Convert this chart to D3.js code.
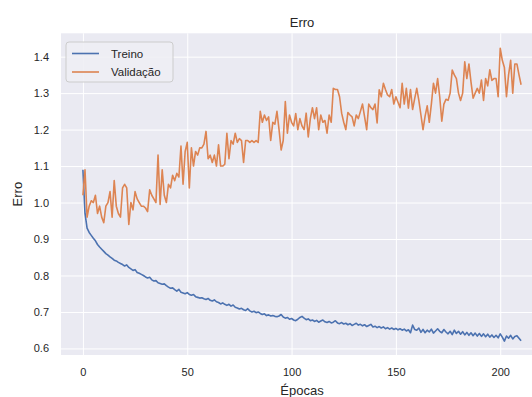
<!DOCTYPE html>
<html>
<head>
<meta charset="utf-8">
<script src="https://cdn.jsdelivr.net/npm/d3@7"></script>
<style>
  html, body { margin: 0; padding: 0; background: #ffffff; }
  svg { display: block; }
  text { font-family: "Liberation Sans", Arial, sans-serif; fill: #262626; }
</style>
</head>
<body>
<svg id="chart" width="532" height="397"></svg>
<script>
const title = "Erro";
const xLabel = "Épocas";
const yLabel = "Erro";
const seriesNames = ["Treino", "Validação"];
const xTicks = [0, 50, 100, 150, 200];
const yTicks = [0.6, 0.7, 0.8, 0.9, 1.0, 1.1, 1.2, 1.3, 1.4];

const treino = [
1.09,0.97,0.93,0.918,0.91,0.902,0.895,0.885,0.878,0.872,
0.866,0.86,0.856,0.851,0.847,0.842,0.840,0.836,0.833,0.830,
0.826,0.829,0.822,0.818,0.814,0.816,0.808,0.806,0.803,0.800,
0.796,0.793,0.795,0.788,0.785,0.786,0.780,0.778,0.776,0.777,
0.772,0.768,0.765,0.766,0.761,0.757,0.762,0.754,0.752,0.750,
0.753,0.748,0.746,0.748,0.742,0.740,0.738,0.739,0.736,0.734,
0.737,0.732,0.730,0.733,0.728,0.726,0.722,0.725,0.721,0.718,
0.721,0.716,0.719,0.713,0.711,0.708,0.710,0.706,0.704,0.709,
0.703,0.700,0.702,0.698,0.700,0.696,0.693,0.695,0.690,0.692,
0.689,0.690,0.688,0.687,0.689,0.693,0.686,0.683,0.685,0.680,
0.682,0.678,0.676,0.680,0.685,0.688,0.683,0.679,0.681,0.676,
0.678,0.674,0.677,0.672,0.675,0.678,0.673,0.671,0.674,0.670,
0.672,0.676,0.670,0.668,0.671,0.667,0.669,0.665,0.668,0.663,
0.666,0.669,0.664,0.666,0.662,0.665,0.660,0.663,0.666,0.659,
0.661,0.657,0.660,0.656,0.659,0.654,0.657,0.653,0.656,0.652,
0.655,0.651,0.654,0.650,0.653,0.648,0.651,0.643,0.664,0.652,
0.650,0.656,0.644,0.652,0.643,0.650,0.645,0.653,0.642,0.648,
0.654,0.647,0.643,0.652,0.645,0.640,0.647,0.638,0.650,0.641,
0.647,0.639,0.646,0.637,0.644,0.636,0.643,0.635,0.642,0.634,
0.641,0.633,0.640,0.632,0.639,0.631,0.637,0.630,0.636,0.629,
0.640,0.631,0.620,0.634,0.628,0.636,0.626,0.633,0.635,0.628,
0.621
];

const validacao = [
1.02,1.09,0.96,0.99,1.005,1.00,1.02,0.97,0.99,0.96,
0.945,0.99,1.00,1.03,0.96,1.06,0.99,0.97,0.96,1.04,
1.05,1.04,0.94,1.00,0.98,1.03,1.01,1.00,0.99,0.99,
0.985,0.975,1.035,1.02,1.01,1.00,1.13,0.995,1.09,1.02,
1.00,1.05,1.04,1.075,1.06,1.08,1.07,1.155,1.05,1.14,
1.165,1.04,1.15,1.10,1.14,1.13,1.15,1.15,1.16,1.195,
1.12,1.13,1.11,1.13,1.10,1.158,1.10,1.10,1.105,1.19,
1.12,1.17,1.16,1.19,1.165,1.175,1.17,1.11,1.17,1.17,
1.165,1.17,1.165,1.17,1.165,1.25,1.22,1.24,1.225,1.235,
1.17,1.22,1.215,1.25,1.20,1.144,1.17,1.277,1.19,1.24,
1.22,1.21,1.244,1.20,1.23,1.21,1.20,1.245,1.18,1.23,
1.26,1.23,1.26,1.20,1.24,1.22,1.225,1.19,1.24,1.22,
1.313,1.31,1.31,1.29,1.245,1.22,1.20,1.247,1.24,1.235,
1.21,1.24,1.23,1.25,1.27,1.235,1.20,1.27,1.26,1.255,
1.27,1.218,1.309,1.29,1.327,1.31,1.295,1.29,1.31,1.27,
1.29,1.275,1.26,1.327,1.27,1.313,1.259,1.31,1.255,1.285,
1.313,1.28,1.24,1.20,1.237,1.265,1.22,1.27,1.327,1.30,
1.34,1.29,1.223,1.27,1.283,1.28,1.30,1.363,1.35,1.34,
1.30,1.28,1.30,1.386,1.34,1.38,1.33,1.286,1.30,1.313,
1.30,1.336,1.28,1.34,1.32,1.364,1.335,1.34,1.34,1.29,
1.423,1.39,1.37,1.29,1.35,1.39,1.30,1.38,1.38,1.35,
1.323
];

const colors = ["#4c72b0", "#dd8452"];
const svg = d3.select("#chart");

const plot = { left: 61, right: 543, top: 33.3, bottom: 355 };

const x = d3.scaleLinear().domain([-10.5, 220.5]).range([plot.left, plot.right]);
const y = d3.scaleLinear().domain([0.582, 1.464]).range([plot.bottom, plot.top]);

// background
svg.append("rect")
  .attr("x", plot.left).attr("y", plot.top)
  .attr("width", plot.right - plot.left).attr("height", plot.bottom - plot.top)
  .attr("fill", "#eaeaf2");

// grid + tick labels
const xAxis = d3.axisBottom(x).tickValues(xTicks).tickSize(-(plot.bottom - plot.top)).tickPadding(13).tickFormat(d3.format("d"));
const yAxis = d3.axisLeft(y).tickValues(yTicks).tickSize(-(plot.right - plot.left)).tickPadding(12).tickFormat(d3.format(".1f"));

const gx = svg.append("g").attr("transform", `translate(0,${plot.bottom})`).call(xAxis);
const gy = svg.append("g").attr("transform", `translate(${plot.left},0)`).call(yAxis);
[gx, gy].forEach(g => {
  g.select(".domain").remove();
  g.selectAll(".tick line").attr("stroke", "#ffffff").attr("stroke-width", 1);
  g.selectAll(".tick text").attr("font-size", 11).attr("fill", "#262626")
    .style("font-family", "'Liberation Sans', Arial, sans-serif");
});

// clip
svg.append("clipPath").attr("id", "clip").append("rect")
  .attr("x", plot.left).attr("y", plot.top)
  .attr("width", plot.right - plot.left).attr("height", plot.bottom - plot.top);

const line = d3.line().x((d, i) => x(i)).y(d => y(d));
const data = [treino, validacao];
data.forEach((s, k) => {
  svg.append("path").datum(s)
    .attr("clip-path", "url(#clip)")
    .attr("fill", "none")
    .attr("stroke", colors[k])
    .attr("stroke-width", 1.6)
    .attr("stroke-linejoin", "round")
    .attr("d", line);
});

// title & labels
const cx = (plot.left + plot.right) / 2;
svg.append("text").attr("x", cx).attr("y", 27).attr("text-anchor", "middle")
  .attr("font-size", 13).text(title);
svg.append("text").attr("x", cx).attr("y", 395).attr("text-anchor", "middle")
  .attr("font-size", 13).text(xLabel);
svg.append("text").attr("transform", `translate(22,${(plot.top + plot.bottom) / 2}) rotate(-90)`)
  .attr("text-anchor", "middle").attr("font-size", 13).text(yLabel);

// legend
const lg = svg.append("g").attr("transform", "translate(66,42)");
lg.append("rect").attr("width", 107).attr("height", 40).attr("rx", 3)
  .attr("fill", "#eeeef4").attr("fill-opacity", 0.9)
  .attr("stroke", "#cccccc").attr("stroke-width", 1);
seriesNames.forEach((n, i) => {
  const yy = 11.5 + i * 18.5;
  lg.append("line").attr("x1", 6).attr("x2", 33).attr("y1", yy).attr("y2", yy)
    .attr("stroke", colors[i]).attr("stroke-width", 1.6);
  lg.append("text").attr("x", 45).attr("y", yy + 4).attr("font-size", 11.5).text(n);
});
</script>
</body>
</html>
